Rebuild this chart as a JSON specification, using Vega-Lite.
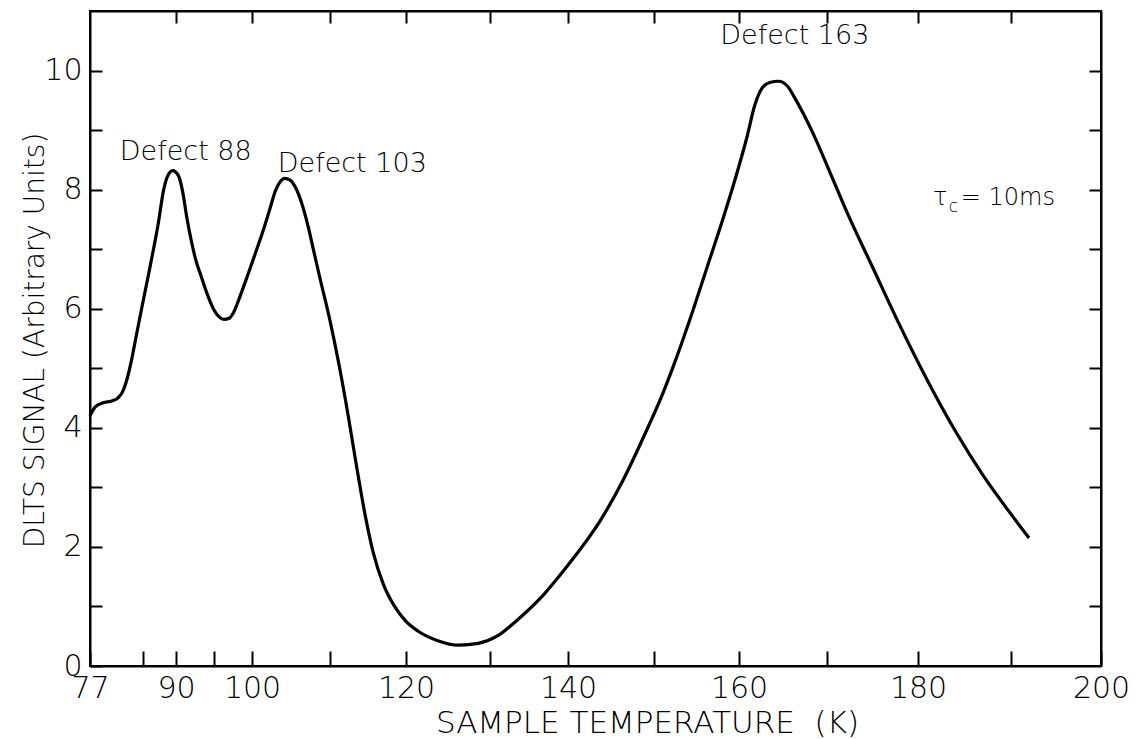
{
  "$schema": "https://vega.github.io/schema/vega-lite/v6.json",
  "width": 1011,
  "height": 655,
  "autosize": "none",
  "padding": {"left": 90, "top": 11, "right": 35, "bottom": 73},
  "background": "white",
  "config": {
    "view": {"stroke": "black", "strokeWidth": 2},
    "font": "DejaVu Sans",
    "axis": {
      "domainColor": "black", "tickColor": "black", "labelColor": "black", "titleColor": "black",
      "grid": false, "domainWidth": 2, "tickWidth": 2,
      "labelFont": "DejaVu Sans", "titleFont": "DejaVu Sans",
      "labelFontWeight": 300, "titleFontWeight": 300
    }
  },
  "datasets": {
    "curve": [
      {"T": 77, "S": 4.2}, {"T": 77.8, "S": 4.35}, {"T": 79, "S": 4.42}, {"T": 80.3, "S": 4.45},
      {"T": 81.2, "S": 4.5}, {"T": 81.9, "S": 4.6}, {"T": 82.6, "S": 4.82}, {"T": 83.3, "S": 5.15},
      {"T": 84.0, "S": 5.55}, {"T": 84.8, "S": 6.0}, {"T": 85.8, "S": 6.55}, {"T": 86.6, "S": 7.0},
      {"T": 87.3, "S": 7.42}, {"T": 88.1, "S": 7.98}, {"T": 88.7, "S": 8.22}, {"T": 89.5, "S": 8.32},
      {"T": 90.3, "S": 8.24}, {"T": 90.9, "S": 7.95}, {"T": 91.4, "S": 7.55}, {"T": 92.0, "S": 7.15},
      {"T": 92.6, "S": 6.82}, {"T": 93.3, "S": 6.55}, {"T": 94.1, "S": 6.25}, {"T": 95.0, "S": 5.98},
      {"T": 95.7, "S": 5.86}, {"T": 96.3, "S": 5.82}, {"T": 97.0, "S": 5.84}, {"T": 97.5, "S": 5.92},
      {"T": 98.4, "S": 6.2}, {"T": 99.4, "S": 6.55}, {"T": 100.4, "S": 6.92}, {"T": 101.4, "S": 7.3},
      {"T": 102.3, "S": 7.68}, {"T": 103.0, "S": 7.98}, {"T": 103.6, "S": 8.13}, {"T": 104.2, "S": 8.19},
      {"T": 104.9, "S": 8.16}, {"T": 105.6, "S": 8.03}, {"T": 106.3, "S": 7.8}, {"T": 107.2, "S": 7.38},
      {"T": 108.0, "S": 6.92}, {"T": 108.7, "S": 6.52}, {"T": 110.0, "S": 5.8}, {"T": 111.2, "S": 5.05},
      {"T": 112.4, "S": 4.2}, {"T": 113.5, "S": 3.35}, {"T": 114.6, "S": 2.55}, {"T": 115.7, "S": 1.9},
      {"T": 117.0, "S": 1.38}, {"T": 118.5, "S": 1.0}, {"T": 120.0, "S": 0.75}, {"T": 121.5, "S": 0.58},
      {"T": 123.7, "S": 0.43}, {"T": 126.3, "S": 0.35}, {"T": 128.6, "S": 0.38}, {"T": 130.9, "S": 0.5},
      {"T": 133.4, "S": 0.76}, {"T": 136.4, "S": 1.13}, {"T": 138.5, "S": 1.45}, {"T": 141, "S": 1.88},
      {"T": 143.7, "S": 2.43}, {"T": 146.4, "S": 3.12}, {"T": 148.8, "S": 3.85}, {"T": 151.1, "S": 4.6},
      {"T": 152.7, "S": 5.2}, {"T": 154.6, "S": 5.98}, {"T": 156.6, "S": 6.85}, {"T": 158.2, "S": 7.55},
      {"T": 159.7, "S": 8.25}, {"T": 160.9, "S": 8.88}, {"T": 161.8, "S": 9.42}, {"T": 162.6, "S": 9.7},
      {"T": 163.5, "S": 9.8}, {"T": 164.5, "S": 9.82}, {"T": 165.5, "S": 9.74}, {"T": 166.3, "S": 9.55},
      {"T": 168.4, "S": 8.95}, {"T": 170.3, "S": 8.3}, {"T": 172.4, "S": 7.55}, {"T": 175, "S": 6.7},
      {"T": 178, "S": 5.72}, {"T": 181, "S": 4.8}, {"T": 184, "S": 3.95}, {"T": 187, "S": 3.2},
      {"T": 190, "S": 2.55}, {"T": 192, "S": 2.15}
    ],
    "notes": [
      {"T": 81.5, "S": 8.5, "label": "Defect 88"},
      {"T": 103.3, "S": 8.29, "label": "Defect 103"},
      {"T": 157.8, "S": 10.44, "label": "Defect 163"}
    ],
    "tau": [
      {"T": 181.6, "S": 7.75, "label": "τ"},
      {"T": 184.6, "S": 7.75, "label": "= 10ms"}
    ],
    "subs": [
      {"T": 183.3, "S": 7.63, "label": "c"}
    ]
  },
  "layer": [
    {
      "data": {"name": "curve"},
      "mark": {"type": "line", "color": "black", "strokeWidth": 3.2, "interpolate": "monotone"},
      "encoding": {
        "x": {
          "field": "T", "type": "quantitative",
          "scale": {"domain": [77, 90, 100, 110, 120, 130, 140, 150, 160, 170, 180, 190, 200], "range": [0, 86, 162, 240, 316, 400, 478, 564, 649, 737, 828, 921, 1011], "nice": false, "zero": false},
          "axis": {
            "orient": "bottom",
            "values": [77, 85, 90, 95, 100, 110, 120, 130, 140, 150, 160, 170, 180, 190, 200],
            "labelExpr": "indexof([77,90,100,120,140,160,180,200], datum.value) >= 0 ? datum.label : ''",
            "tickSize": -15, "labelFontSize": 30, "labelPadding": 22, "labelFlush": false, "labelOverlap": false,
            "title": "SAMPLE TEMPERATURE\u00a0\u00a0(K)", "titleFontSize": 31,
            "titleX": 557, "titleY": 66, "titleAlign": "center", "titleBaseline": "alphabetic"
          }
        },
        "y": {
          "field": "S", "type": "quantitative",
          "scale": {"domain": [0, 11], "nice": false, "zero": false},
          "axis": {
            "orient": "left",
            "values": [0, 1, 2, 3, 4, 5, 6, 7, 8, 9, 10],
            "labelExpr": "datum.value % 2 == 0 ? datum.label : ''",
            "tickSize": -12, "labelFontSize": 30, "labelPadding": 20, "labelFlush": false, "labelOverlap": false,
            "title": "DLTS SIGNAL (Arbitrary Units)", "titleFontSize": 28,
            "titleAngle": -90, "titleX": -47, "titleY": 329, "titleAlign": "center", "titleBaseline": "alphabetic"
          }
        }
      }
    },
    {
      "data": {"name": "curve"},
      "mark": {"type": "line", "strokeOpacity": 0},
      "encoding": {
        "x": {
          "field": "T", "type": "quantitative",
          "scale": {"domain": [77, 90, 100, 110, 120, 130, 140, 150, 160, 170, 180, 190, 200], "range": [0, 86, 162, 240, 316, 400, 478, 564, 649, 737, 828, 921, 1011], "nice": false, "zero": false},
          "axis": {"orient": "top", "values": [90, 100, 110, 120, 130, 140, 150, 160, 170, 180, 190], "labels": false, "tickSize": -12, "title": null}
        },
        "y": {
          "field": "S", "type": "quantitative",
          "scale": {"domain": [0, 11], "nice": false, "zero": false},
          "axis": {"orient": "right", "values": [1, 2, 3, 4, 5, 6, 7, 8, 9, 10], "labels": false, "tickSize": -12, "title": null}
        }
      }
    },
    {
      "data": {"name": "notes"},
      "mark": {"type": "text", "align": "left", "baseline": "alphabetic", "fontSize": 27, "fontWeight": 300, "font": "DejaVu Sans", "color": "black"},
      "encoding": {
        "x": {"field": "T", "type": "quantitative", "axis": null,
          "scale": {"domain": [77, 90, 100, 110, 120, 130, 140, 150, 160, 170, 180, 190, 200], "range": [0, 86, 162, 240, 316, 400, 478, 564, 649, 737, 828, 921, 1011], "nice": false, "zero": false}},
        "y": {"field": "S", "type": "quantitative", "axis": null, "scale": {"domain": [0, 11], "nice": false, "zero": false}},
        "text": {"field": "label"}
      }
    },
    {
      "data": {"name": "tau"},
      "mark": {"type": "text", "align": "left", "baseline": "alphabetic", "fontSize": 24, "fontWeight": 300, "font": "DejaVu Sans", "color": "black"},
      "encoding": {
        "x": {"field": "T", "type": "quantitative", "axis": null,
          "scale": {"domain": [77, 90, 100, 110, 120, 130, 140, 150, 160, 170, 180, 190, 200], "range": [0, 86, 162, 240, 316, 400, 478, 564, 649, 737, 828, 921, 1011], "nice": false, "zero": false}},
        "y": {"field": "S", "type": "quantitative", "axis": null, "scale": {"domain": [0, 11], "nice": false, "zero": false}},
        "text": {"field": "label"}
      }
    },
    {
      "data": {"name": "subs"},
      "mark": {"type": "text", "align": "left", "baseline": "alphabetic", "fontSize": 17, "fontWeight": 300, "font": "DejaVu Sans", "color": "black"},
      "encoding": {
        "x": {"field": "T", "type": "quantitative", "axis": null,
          "scale": {"domain": [77, 90, 100, 110, 120, 130, 140, 150, 160, 170, 180, 190, 200], "range": [0, 86, 162, 240, 316, 400, 478, 564, 649, 737, 828, 921, 1011], "nice": false, "zero": false}},
        "y": {"field": "S", "type": "quantitative", "axis": null, "scale": {"domain": [0, 11], "nice": false, "zero": false}},
        "text": {"field": "label"}
      }
    }
  ],
  "resolve": {"axis": {"x": "independent", "y": "independent"}}
}
